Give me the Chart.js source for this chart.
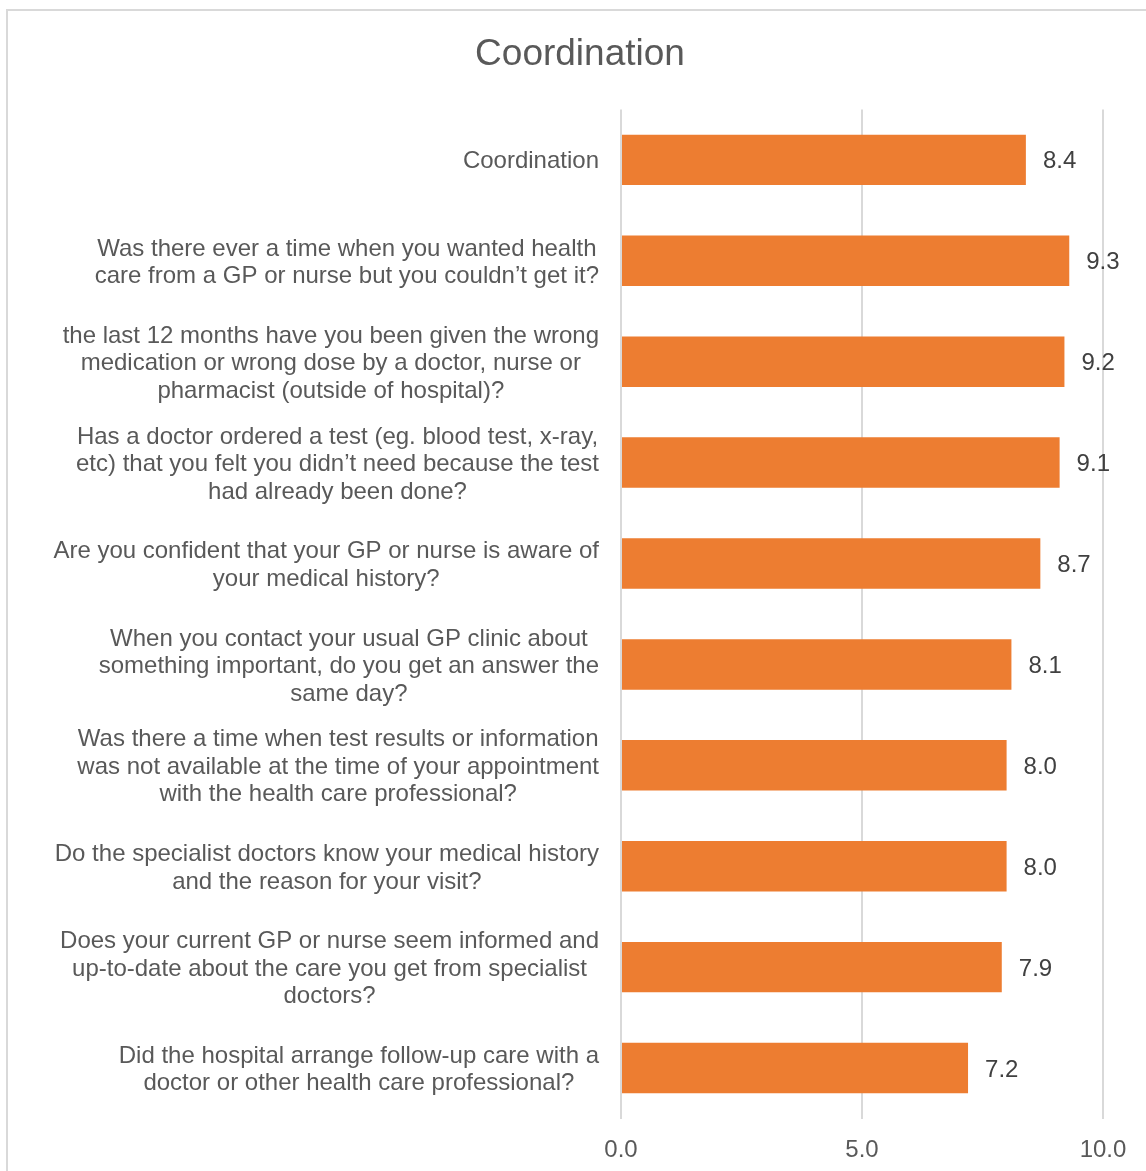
<!DOCTYPE html>
<html>
<head>
<meta charset="utf-8">
<title>Coordination</title>
<script src="https://cdn.jsdelivr.net/npm/chart.js@4.4.0/dist/chart.umd.min.js"></script>
<style>
  html, body { margin: 0; padding: 0; background: #fff; overflow: hidden; }
  #frame { position: absolute; left: 6px; top: 9px; width: 1400px; height: 1400px;
           border: 2px solid #d9d9d9; box-sizing: border-box; }
  #grafico { position: absolute; left: 0; top: 0; }
</style>
</head>
<body>
<div id="frame"></div>
<canvas id="grafico" width="1146" height="1171"></canvas>
<script>
/* ---------------------------------------------------------
   Coordination — mean scores per survey question (0–10)
   --------------------------------------------------------- */

const chartTitle = 'Coordination';

// question texts, already wrapped the way they are shown
const questions = [
  ['Coordination'],
  ['Was there ever a time when you wanted health', 'care from a GP or nurse but you couldn\u2019t get it?'],
  ['the last 12 months have you been given the wrong', 'medication or wrong dose by a doctor, nurse or', 'pharmacist (outside of hospital)?'],
  ['Has a doctor ordered a test (eg. blood test, x-ray,', 'etc) that you felt you didn\u2019t need because the test', 'had already been done?'],
  ['Are you confident that your GP or nurse is aware of', 'your medical history?'],
  ['When you contact your usual GP clinic about', 'something important, do you get an answer the', 'same day?'],
  ['Was there a time when test results or information', 'was not available at the time of your appointment', 'with the health care professional?'],
  ['Do the specialist doctors know your medical history', 'and the reason for your visit?'],
  ['Does your current GP or nurse seem informed and', 'up-to-date about the care you get from specialist', 'doctors?'],
  ['Did the hospital arrange follow-up care with a', 'doctor or other health care professional?']
];

const scores = [8.4, 9.3, 9.2, 9.1, 8.7, 8.1, 8.0, 8.0, 7.9, 7.2];

const axisTicks = [0, 5, 10];

const colors = {
  bar: '#ED7D31',
  text: '#595959',
  value: '#404040',
  grid: '#D9D9D9'
};

const FONT = '"Liberation Sans", Arial, sans-serif';
const FONT_SIZE = 24;

/* --------- question labels: block right-aligned, lines centred --------- */
const questionLabels = {
  id: 'questionLabels',
  afterDraw(chart) {
    const ctx = chart.ctx;
    const yScale = chart.scales.y;
    const right = chart.chartArea.left - 22;
    const lineH = 27.5;
    ctx.save();
    ctx.font = FONT_SIZE + 'px ' + FONT;
    ctx.fillStyle = colors.text;
    ctx.textAlign = 'center';
    ctx.textBaseline = 'middle';
    questions.forEach((lines, i) => {
      const y = yScale.getPixelForValue(i) + 2;
      const maxW = Math.max(...lines.map(l => ctx.measureText(l).width));
      const cx = right - maxW / 2;
      const y0 = y - (lines.length - 1) * lineH / 2;
      lines.forEach((l, k) => ctx.fillText(l, cx, y0 + k * lineH));
    });
    ctx.restore();
  }
};

/* --------- value labels at the end of each bar --------- */
const valueLabels = {
  id: 'valueLabels',
  afterDatasetsDraw(chart) {
    const ctx = chart.ctx;
    const meta = chart.getDatasetMeta(0);
    ctx.save();
    ctx.font = FONT_SIZE + 'px ' + FONT;
    ctx.fillStyle = colors.value;
    ctx.textAlign = 'left';
    ctx.textBaseline = 'middle';
    meta.data.forEach((bar, i) => {
      ctx.fillText(scores[i].toFixed(1), bar.x + 17, bar.y + 2);
    });
    ctx.restore();
  }
};

new Chart(document.getElementById('grafico'), {
  type: 'bar',
  data: {
    labels: questions,
    datasets: [{
      data: scores,
      backgroundColor: colors.bar,
      barPercentage: 1,
      categoryPercentage: 0.5
    }]
  },
  options: {
    indexAxis: 'y',
    responsive: false,
    animation: false,
    layout: { padding: { left: 57, right: 43, top: 0, bottom: 0 } },
    plugins: {
      legend: { display: false },
      tooltip: { enabled: false },
      title: {
        display: true,
        text: chartTitle,
        color: colors.text,
        font: { family: FONT, size: 37, weight: 'normal' },
        padding: { top: 33, bottom: 32 }
      }
    },
    scales: {
      x: {
        min: 0,
        max: 10,
        afterBuildTicks: s => { s.ticks = axisTicks.map(v => ({ value: v })); },
        afterFit: s => { s.height = 52.5; },
        grid: { color: colors.grid, lineWidth: 2, drawTicks: false },
        border: { display: false },
        ticks: {
          padding: 17,
          color: colors.text,
          font: { family: FONT, size: FONT_SIZE },
          maxRotation: 0,
          callback: v => Number(v).toFixed(1)
        }
      },
      y: {
        afterFit: s => { s.width = 564; },
        grid: { display: false },
        border: { display: false },
        ticks: { display: false }
      }
    }
  },
  plugins: [questionLabels, valueLabels]
});
</script>
</body>
</html>
